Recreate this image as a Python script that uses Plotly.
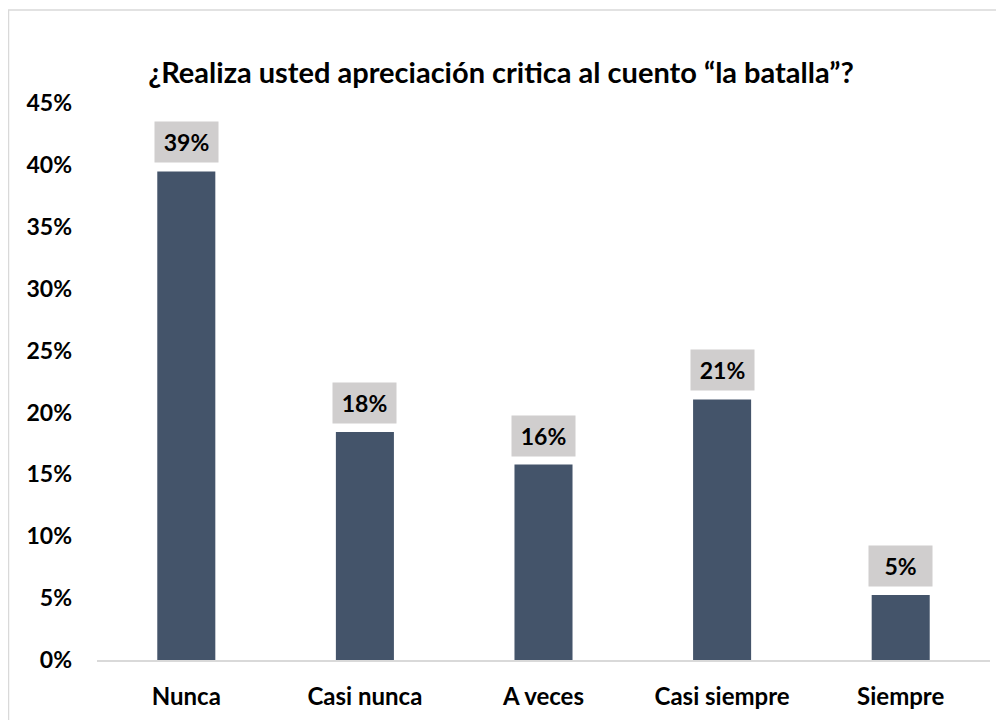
import plotly.graph_objects as go

categories = ["Nunca", "Casi nunca", "A veces", "Casi siempre", "Siempre"]
values = [39.47, 18.42, 15.79, 21.05, 5.26]
labels = ["39%", "18%", "16%", "21%", "5%"]
y_ticks = [0, 5, 10, 15, 20, 25, 30, 35, 40, 45]
y_tick_text = [f"{v}%" for v in y_ticks]

FONT = "Lato"
BAR = "#44546A"
LBL_BG = "#D0CECE"

fig = go.Figure(go.Bar(x=categories, y=values, marker=dict(color=BAR, line=dict(width=0))))

for c, v, t in zip(categories, values, labels):
    fig.add_annotation(x=c, y=v, text=f"<b>{t}</b>", showarrow=False,
                       yanchor="bottom", yshift=8, bgcolor=LBL_BG,
                       width=59, height=36, borderpad=2,
                       font=dict(family=FONT, size=23, color="#000000"))

# page body has an 8px margin; figure sized to compensate
W, H = 996, 712
L, R, T, B = 89, 14, 95, 60
pw, ph = W - L - R, H - T - B

fig.add_shape(type="rect", xref="paper", yref="paper",
              x0=(0.5 - L) / pw, x1=(1010 - L) / pw,
              y0=(H - B - 730) / ph, y1=(H - B - 2) / ph,
              line=dict(color="#D9D9D9", width=1.5), fillcolor="rgba(0,0,0,0)")

fig.update_layout(
    width=W, height=H,
    margin=dict(l=L, r=R, t=T, b=B, autoexpand=False),
    paper_bgcolor="white", plot_bgcolor="white",
    bargap=0.675,
    showlegend=False,
    title=dict(text="<b>¿Realiza usted apreciación critica al cuento “la batalla”?</b>",
               x=(493 - L) / pw, xref="paper", xanchor="center",
               y=1 - 65 / H, yanchor="middle", yref="container",
               font=dict(family=FONT, size=29, color="#000000")),
    font=dict(family=FONT, color="#000000"),
)
fig.update_yaxes(range=[0, 45], tickvals=y_ticks, ticktext=[f"<b>{t}</b>" for t in y_tick_text],
                 showgrid=False, zeroline=False, showline=False, automargin=False,
                 tickfont=dict(family=FONT, size=23, color="#000000"),
                 ticks="", ticklabelstandoff=24)
fig.update_xaxes(showgrid=False, showline=True, linecolor="#D9D9D9", linewidth=1.5,
                 tickvals=categories, ticktext=[f"<b>{c}</b>" for c in categories],
                 automargin=False,
                 tickfont=dict(family=FONT, size=24, color="#000000"),
                 ticks="", ticklabelstandoff=14)

fig.write_html("out.html")
